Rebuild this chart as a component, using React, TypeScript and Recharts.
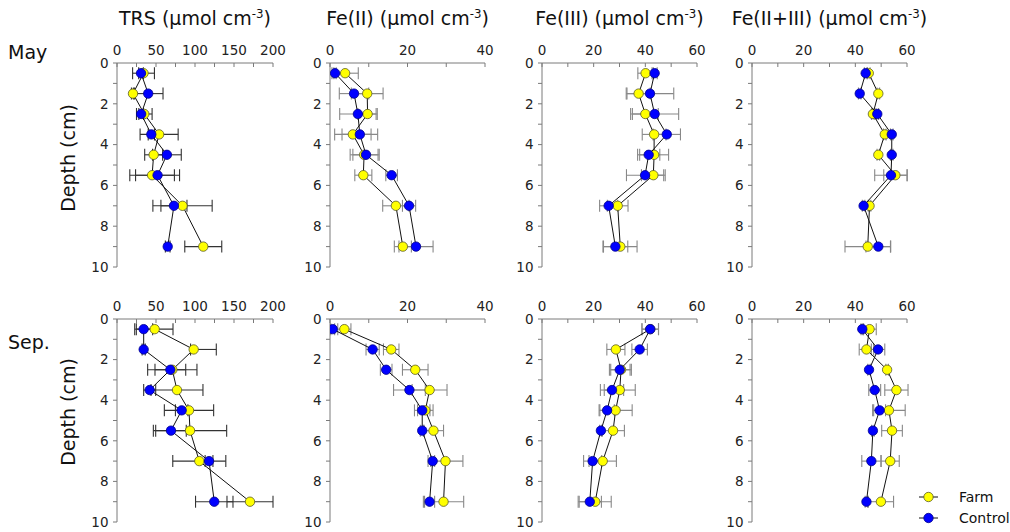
import React from "react";
import { ErrorBar, Scatter, ScatterChart, XAxis, YAxis } from "recharts";

// sampling depths (cm)
const depths = [0.5, 1.5, 2.5, 3.5, 4.5, 5.5, 7, 9];

// May
const mayTrsFarm = [34, 20.5, 35, 54, 47, 45, 84, 110.6];
const mayTrsFarmErr = [14, 2, 10, 24.4, 11.5, 28.6, 38, 23.7];
const mayTrsControl = [30.8, 40, 31, 44, 64, 52, 73, 65];
const mayTrsControlErr = [3, 19, 3, 4, 18.4, 28.2, 16.7, 3];

const mayFe2Farm = [3.9, 9.6, 9.7, 5.9, 8.8, 8.6, 17.0, 18.8];
const mayFe2FarmErr = [3.4, 4.1, 2.5, 4.7, 3.6, 2.2, 3.4, 2.2];
const mayFe2Control = [1.3, 6.2, 7.2, 7.7, 9.3, 15.9, 20.4, 22.2];
const mayFe2ControlErr = [0.3, 3.8, 4.7, 4.6, 3.4, 1.5, 1.7, 4.4];

const mayFe3Farm = [40.1, 37.4, 40, 43.4, 43.4, 43.1, 29.3, 30.3];
const mayFe3FarmErr = [3, 4.5, 5, 4.6, 5.6, 4.6, 4, 6.5];
const mayFe3Control = [43.6, 41.8, 43.6, 48.3, 41.3, 39.9, 25.8, 28.4];
const mayFe3ControlErr = [1, 9.2, 9.3, 5.3, 4.3, 7.2, 3.5, 4.8];

const mayTotFarm = [45.2, 48.9, 46.8, 51.4, 48.9, 55.5, 45.5, 44.8];
const mayTotFarmErr = [0.5, 0.5, 0.5, 0.5, 0.5, 4.5, 0.5, 8.8];
const mayTotControl = [44, 41.7, 48.5, 54.1, 54.1, 53.8, 43.2, 48.9];
const mayTotControlErr = [0.5, 0.5, 0.5, 0.5, 0.5, 6.3, 0.5, 4.8];

// September
const sepTrsFarm = [48.3, 98.3, 70.9, 76.9, 92.3, 93.6, 105.5, 170.5];
const sepTrsFarmErr: Array<number | number[]> = [23.5, [4, 29], 31.6, 33.3, 31.6, 47, 34, 29.5];
const sepTrsControl = [34.2, 34.2, 68.4, 41.9, 82.9, 69.2, 118, 124.7];
const sepTrsControlErr = [11.5, 2, 19.7, 7.7, 8, 19.6, 5, 24];

const sepFe2Farm = [3.7, 15.8, 22, 25.7, 24.6, 26.7, 29.8, 29.3];
const sepFe2FarmErr = [1.7, 2, 3.3, 4.5, 2, 2.6, 4.5, 5.2];
const sepFe2Control = [0.7, 11.0, 14.5, 20.5, 23.8, 23.8, 26.5, 25.7];
const sepFe2ControlErr = [0.5, 1.7, 1.5, 4.1, 2, 0.5, 0.5, 1.3];

const sepFe3Farm = [41.9, 28.6, 30.6, 30.1, 28.5, 27.5, 23.5, 20.6];
const sepFe3FarmErr = [3.2, 3.5, 4, 6, 6.4, 4.4, 5.3, 6.2];
const sepFe3Control = [41.9, 37.8, 30.1, 27.1, 25.2, 22.8, 19.6, 18.5];
const sepFe3ControlErr = [3.2, 3, 4, 4.5, 2.8, 0.5, 3.5, 4.5];

const sepTotFarm = [45.5, 44.3, 52.3, 55.9, 53, 54.2, 53.5, 49.9];
const sepTotFarmErr = [2.6, 2.8, 0.5, 4.5, 6.3, 4, 3.5, 4.9];
const sepTotControl = [42.7, 48.8, 45.3, 47.5, 49.4, 46.8, 46.2, 44.3];
const sepTotControlErr = [0.5, 2.6, 0.5, 2.3, 2.3, 0.5, 3.7, 0.5];

const trsTicks = [0, 25, 50, 75, 100, 125, 150, 175, 200];
const fe2Ticks = [0, 10, 20, 30, 40];
const fe3Ticks = [0, 10, 20, 30, 40, 50, 60];
const depthTicks = [0, 1, 2, 3, 4, 5, 6, 7, 8, 9, 10];

const titles = ["TRS", "Fe(II)", "Fe(III)", "Fe(II+III)"];

const FONT = "'DejaVu Sans', Verdana, sans-serif";
const YELLOW = "#ffff00";
const BLUE = "#0000ff";
const AXIS = "#7a7a7a";

// plot area boxes in page pixels
const colX = [
  [117, 273],
  [330, 485],
  [542, 697],
  [752, 907]
];
const rowY = [
  [63, 267],
  [319, 522]
];

const Y_W = 40;
const X_H = 30;
const M_RIGHT = 20;
const M_BOTTOM = 10;

function rows(values: number[], errs: Array<number | number[]>) {
  return depths.map((d, i) => ({ d, v: values[i], e: errs[i] }));
}

type PanelProps = {
  col: number;
  row: number;
  max: number;
  ticks: number[];
  step: number;
  farm: number[];
  farmErr: Array<number | number[]>;
  control: number[];
  controlErr: Array<number | number[]>;
  errColor: string;
};

function Panel(p: PanelProps) {
  const [x0, x1] = colX[p.col];
  const [y0, y1] = rowY[p.row];
  const w = x1 - x0 + Y_W + M_RIGHT;
  const h = y1 - y0 + X_H + M_BOTTOM;
  return (
    <div style={{ position: "absolute", left: x0 - Y_W, top: y0 - X_H }}>
      <ScatterChart width={w} height={h} margin={{ top: 0, right: M_RIGHT, bottom: M_BOTTOM, left: 0 }}>
        <XAxis
          type="number"
          dataKey="v"
          orientation="top"
          height={X_H}
          domain={[0, p.max]}
          allowDataOverflow
          ticks={p.ticks}
          interval={0}
          tickFormatter={(v) => (v % p.step === 0 ? String(v) : "")}
          tick={{ fontSize: 13.5, fill: "#222", fontFamily: FONT }}
          tickSize={-4}
          tickMargin={12.5}
          stroke={AXIS}
        />
        <YAxis
          type="number"
          dataKey="d"
          reversed
          width={Y_W}
          domain={[0, 10]}
          allowDataOverflow
          ticks={depthTicks}
          interval={0}
          tickFormatter={(v) => (v % 2 === 0 ? String(v) : "")}
          tick={{ fontSize: 13.5, fill: "#222", fontFamily: FONT }}
          tickSize={4}
          tickMargin={4.5}
          stroke={AXIS}
        />
        <Scatter
          data={rows(p.farm, p.farmErr)}
          isAnimationActive={false}
          line={{ stroke: "#111", strokeWidth: 1 }}
          shape={(s: any) => <circle cx={s.cx} cy={s.cy} r={4.7} fill={YELLOW} stroke="#5a5a2a" strokeWidth={0.8} />}
        >
          <ErrorBar dataKey="e" direction="x" width={6} stroke={p.errColor} strokeWidth={1.1} />
        </Scatter>
        <Scatter
          data={rows(p.control, p.controlErr)}
          isAnimationActive={false}
          line={{ stroke: "#111", strokeWidth: 1 }}
          shape={(s: any) => <circle cx={s.cx} cy={s.cy} r={4.7} fill={BLUE} stroke="#00008a" strokeWidth={0.8} />}
        >
          <ErrorBar dataKey="e" direction="x" width={6} stroke={p.errColor} strokeWidth={1.1} />
        </Scatter>
      </ScatterChart>
    </div>
  );
}

const text: React.CSSProperties = { position: "absolute", fontFamily: FONT, color: "#111", whiteSpace: "nowrap" };

export default function App() {
  return (
    <div style={{ position: "absolute", left: 0, top: 0, width: 1010, height: 532, background: "#fff", overflow: "hidden" }}>
      {titles.map((t, i) => {
        const cx = (colX[i][0] + colX[i][1]) / 2;
        return (
          <div
            key={t}
            style={{ ...text, left: cx - 150, width: 300, top: 6, textAlign: "center", fontSize: 19, lineHeight: "24px" }}
          >
            {t} (μmol cm<sup style={{ fontSize: "0.62em", lineHeight: 0 }}>-3</sup>)
          </div>
        );
      })}

      <div style={{ ...text, left: 8, top: 40, fontSize: 19, lineHeight: "24px" }}>May</div>
      <div style={{ ...text, left: 8, top: 330, fontSize: 19, lineHeight: "24px" }}>Sep.</div>
      {[158, 412].map((cy) => (
        <div
          key={cy}
          style={{
            ...text,
            left: 68 - 70,
            top: cy - 12,
            width: 140,
            textAlign: "center",
            fontSize: 19,
            lineHeight: "24px",
            transform: "rotate(-90deg)"
          }}
        >
          Depth (cm)
        </div>
      ))}

      <Panel col={0} row={0} max={200} ticks={trsTicks} step={50} farm={mayTrsFarm} farmErr={mayTrsFarmErr} control={mayTrsControl} controlErr={mayTrsControlErr} errColor="#333" />
      <Panel col={1} row={0} max={40} ticks={fe2Ticks} step={20} farm={mayFe2Farm} farmErr={mayFe2FarmErr} control={mayFe2Control} controlErr={mayFe2ControlErr} errColor="#888" />
      <Panel col={2} row={0} max={60} ticks={fe3Ticks} step={20} farm={mayFe3Farm} farmErr={mayFe3FarmErr} control={mayFe3Control} controlErr={mayFe3ControlErr} errColor="#888" />
      <Panel col={3} row={0} max={60} ticks={fe3Ticks} step={20} farm={mayTotFarm} farmErr={mayTotFarmErr} control={mayTotControl} controlErr={mayTotControlErr} errColor="#888" />

      <Panel col={0} row={1} max={200} ticks={trsTicks} step={50} farm={sepTrsFarm} farmErr={sepTrsFarmErr} control={sepTrsControl} controlErr={sepTrsControlErr} errColor="#333" />
      <Panel col={1} row={1} max={40} ticks={fe2Ticks} step={20} farm={sepFe2Farm} farmErr={sepFe2FarmErr} control={sepFe2Control} controlErr={sepFe2ControlErr} errColor="#888" />
      <Panel col={2} row={1} max={60} ticks={fe3Ticks} step={20} farm={sepFe3Farm} farmErr={sepFe3FarmErr} control={sepFe3Control} controlErr={sepFe3ControlErr} errColor="#888" />
      <Panel col={3} row={1} max={60} ticks={fe3Ticks} step={20} farm={sepTotFarm} farmErr={sepTotFarmErr} control={sepTotControl} controlErr={sepTotControlErr} errColor="#888" />

      {[
        { name: "Farm", fill: YELLOW, stroke: "#5a5a2a", cy: 497 },
        { name: "Control", fill: BLUE, stroke: "#00008a", cy: 518 }
      ].map((l) => (
        <div key={l.name} style={{ position: "absolute", left: 916, top: l.cy - 10, height: 20, display: "flex", alignItems: "center" }}>
          <svg width={26} height={20}>
            <line x1={3} x2={22} y1={10} y2={10} stroke="#111" strokeWidth={1} />
            <circle cx={12.5} cy={10} r={4.7} fill={l.fill} stroke={l.stroke} strokeWidth={0.8} />
          </svg>
          <span style={{ fontFamily: FONT, fontSize: 14, color: "#111", marginLeft: 17 }}>{l.name}</span>
        </div>
      ))}
    </div>
  );
}
